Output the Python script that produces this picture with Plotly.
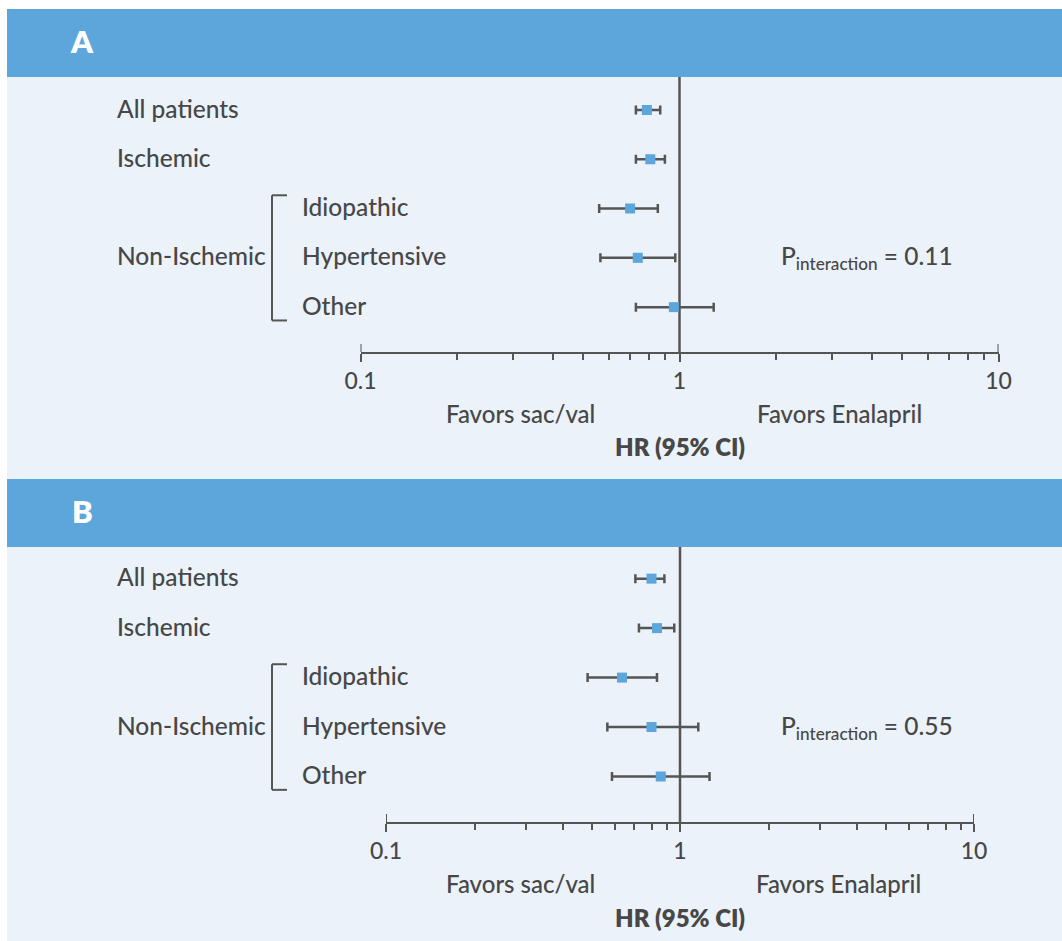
import plotly.graph_objects as go

# ---------------- data ----------------
rows = ["All patients", "Ischemic", "Idiopathic", "Hypertensive", "Other"]
row_indent = [0, 0, 1, 1, 1]
group_label = "Non-Ischemic"
panels = ["A", "B"]

hr_a = [0.79, 0.81, 0.70, 0.74, 0.96]
lo_a = [0.73, 0.73, 0.56, 0.565, 0.73]
hi_a = [0.87, 0.90, 0.855, 0.97, 1.28]

hr_b = [0.80, 0.835, 0.635, 0.80, 0.86]
lo_b = [0.705, 0.725, 0.485, 0.566, 0.587]
hi_b = [0.885, 0.956, 0.835, 1.154, 1.26]

p_interaction = ["0.11", "0.55"]

major_ticks = [0.1, 1, 10]
major_text = ["0.1", "1", "10"]
minor_ticks = [0.2, 0.3, 0.4, 0.5, 0.6, 0.7, 0.8, 0.9, 2, 3, 4, 5, 6, 7, 8, 9]

left_label = "Favors sac/val"
right_label = "Favors Enalapril"
axis_title = "HR (95% CI)"

# ---------------- style ----------------
W, H = 1062, 941
HEADER = "#5CA6DB"
BG = "#EBF2FA"
TXT = "#474747"
LINE = "#555555"
MARK = "#5CA6DB"
FONT = "Lato, Noto Sans, sans-serif"
WT = 500


def px(x):
    return x / W


def py(y):
    return 1 - y / H


def f(size, color=TXT, weight=WT):
    return dict(family=FONT, size=size, color=color, weight=weight)


# panel geometry in pixels
geo = [
    dict(head=(9, 77), bg=(77, 479), ydom=(77, 352), xdom=(360.5, 998.5),
         yrange=(4.91, -0.67), left=520, right=839, hr_y=448, fav_y=413),
    dict(head=(479, 547), bg=(547, 941), ydom=(547, 822), xdom=(386, 974),
         yrange=(4.92, -0.64), left=520, right=838.5, hr_y=918, fav_y=883),
]
data = [(hr_a, lo_a, hi_a), (hr_b, lo_b, hi_b)]

fig = go.Figure()
shapes = []
annotations = []

for i, (g, (hr, lo, hi)) in enumerate(zip(geo, data)):
    xa = "x" if i == 0 else "x2"
    ya = "y" if i == 0 else "y2"
    xkey = "xaxis" if i == 0 else "xaxis2"
    ykey = "yaxis" if i == 0 else "yaxis2"

    # backgrounds
    shapes.append(dict(type="rect", xref="paper", yref="paper", x0=px(7), x1=1,
                       y0=py(g["bg"][1]), y1=py(g["bg"][0]), fillcolor=BG,
                       line=dict(width=0), layer="below"))
    shapes.append(dict(type="rect", xref="paper", yref="paper", x0=px(7), x1=1,
                       y0=py(g["head"][1]), y1=py(g["head"][0]), fillcolor=HEADER,
                       line=dict(width=0), layer="below"))
    annotations.append(dict(text=panels[i], xref="paper", yref="paper",
                            x=px(82), y=py((g["head"][0] + g["head"][1]) / 2 - 2),
                            showarrow=False, xanchor="center", yanchor="middle",
                            font=f(31, "white", 800)))

    # reference line at HR = 1
    shapes.append(dict(type="line", xref=xa, yref=ya + " domain", x0=1, x1=1, y0=0, y1=1,
                       line=dict(color=LINE, width=2.5), layer="below"))
    # upward part of end ticks
    for t in [major_ticks[0], major_ticks[-1]]:
        shapes.append(dict(type="line", xref=xa, yref=ya + " domain", x0=t, x1=t,
                           y0=0, y1=8 / (g["ydom"][1] - g["ydom"][0]),
                           line=dict(color=LINE, width=2), layer="below"))

    ys = list(range(len(rows)))
    fig.add_trace(go.Scatter(
        x=hr, y=ys, mode="markers", xaxis=xa, yaxis=ya, showlegend=False,
        marker=dict(symbol="square", size=10, color=MARK, line=dict(width=0)),
        error_x=dict(type="data", symmetric=False,
                     array=[h - m for h, m in zip(hi, hr)],
                     arrayminus=[m - l for m, l in zip(hr, lo)],
                     color=LINE, thickness=2.5, width=4.5),
    ))

    fig.update_layout({
        xkey: dict(type="log", range=[-1, 1], domain=[px(g["xdom"][0]), px(g["xdom"][1])],
                   anchor=ya, showgrid=False, zeroline=False, showline=True,
                   linecolor=LINE, linewidth=2, ticks="outside", ticklen=8, tickwidth=2,
                   tickcolor=LINE, tickmode="array", tickvals=major_ticks, ticktext=major_text,
                   tickfont=f(23), ticklabelstandoff=-1,
                   automargin=False,
                   minor=dict(tickmode="array", tickvals=minor_ticks, ticks="outside",
                              ticklen=6, tickwidth=1.5, tickcolor=LINE, showgrid=False),
                   fixedrange=True),
        ykey: dict(range=list(g["yrange"]), domain=[py(g["ydom"][1]), py(g["ydom"][0])],
                   anchor=xa, visible=False, showgrid=False, zeroline=False,
                   automargin=False, fixedrange=True),
    })

    # row labels
    for r, (name, ind) in enumerate(zip(rows, row_indent)):
        annotations.append(dict(text=name, xref="paper", yref=ya, x=px(300 if ind else 115),
                                y=r - 0.04, showarrow=False, xanchor="left", yanchor="middle",
                                font=f(24.5)))
    sub = [r for r, ind in enumerate(row_indent) if ind]
    annotations.append(dict(text=group_label, xref="paper", yref=ya, x=px(115),
                            y=sum(sub) / len(sub) - 0.04, showarrow=False, xanchor="left",
                            yanchor="middle", font=f(24.5)))
    # bracket
    y0b, y1b = min(sub) - 0.27, max(sub) + 0.27
    xl, xr = px(272), px(287)
    for (ax0, ay0, ax1, ay1) in [(xr, y0b, xl, y0b), (xl, y0b, xl, y1b), (xl, y1b, xr, y1b)]:
        shapes.append(dict(type="line", xref="paper", yref=ya, x0=ax0, y0=ay0, x1=ax1, y1=ay1,
                           line=dict(color=LINE, width=2)))

    # p interaction
    annotations.append(dict(text="P<sub>interaction</sub> = %s" % p_interaction[i],
                            xref="paper", yref=ya, x=px(779), y=3, showarrow=False,
                            xanchor="left", yanchor="middle", font=f(24.5)))
    # favors / HR labels
    annotations.append(dict(text=left_label, xref="paper", yref="paper", x=px(g["left"]),
                            y=py(g["fav_y"]), showarrow=False, xanchor="center",
                            yanchor="middle", font=f(24)))
    annotations.append(dict(text=right_label, xref="paper", yref="paper", x=px(g["right"]),
                            y=py(g["fav_y"]), showarrow=False, xanchor="center",
                            yanchor="middle", font=f(24)))
    annotations.append(dict(text=axis_title, xref="paper", yref="paper",
                            x=px(680), y=py(g["hr_y"] - 1), showarrow=False, xanchor="center",
                            yanchor="middle", font=f(24, TXT, 800)))

fig.update_layout(
    width=W, height=H, autosize=False,
    margin=dict(l=0, r=0, t=0, b=0, pad=0, autoexpand=False),
    paper_bgcolor="white", plot_bgcolor="rgba(0,0,0,0)",
    shapes=shapes, annotations=annotations, showlegend=False,
    font=dict(family=FONT, color=TXT),
)

fig.write_html("out.html", config={"displayModeBar": False},
               post_script="document.body.style.margin='0';document.body.style.overflow='hidden';")
